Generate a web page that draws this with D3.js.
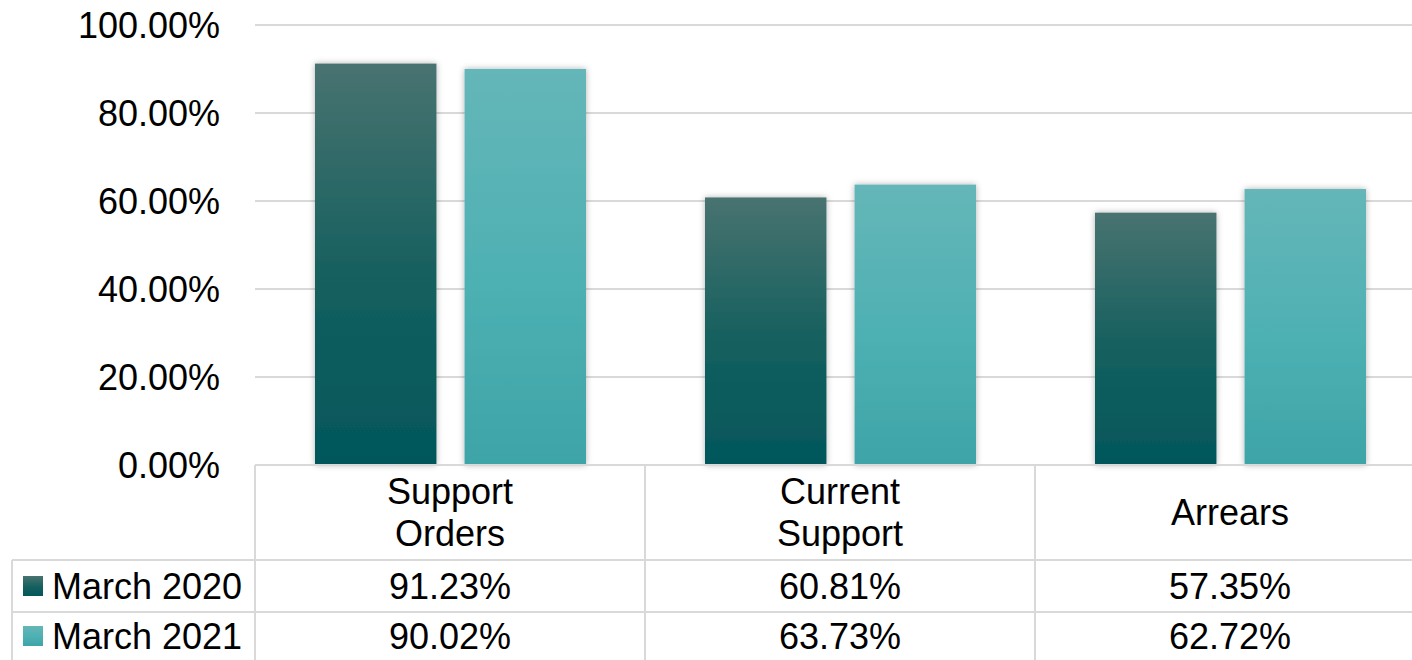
<!DOCTYPE html>
<html>
<head>
<meta charset="utf-8">
<script src="https://cdn.jsdelivr.net/npm/d3@7"></script>
<style>
  body { margin: 0; background: #fff; }
  svg text { font-family: "Liberation Sans", Arial, sans-serif; fill: #000; }
</style>
</head>
<body>
<div id="chart"></div>
<script>
var categories = [["Support", "Orders"], ["Current", "Support"], ["Arrears"]];
var seriesNames = ["March 2020", "March 2021"];
var march2020 = [91.23, 60.81, 57.35];
var march2021 = [90.02, 63.73, 62.72];
var yTicks = [0, 20, 40, 60, 80, 100];

function createChart() {
    var frame_width  = 1412,
        frame_height = 660,
        plotLeft     = 255,
        plotTop      = 25,
        plotBottom   = 465,
        bandWidth    = 390,
        rowY         = [560, 612, 660],
        tableLeft    = 12,
        fontSize     = 36,
        gridColor    = "#d9d9d9";

    var series = [march2020, march2021];
    var keys = categories.map(function(c) { return c.join(" "); });

    var svg = d3.select("#chart").append("svg")
        .attr("width", frame_width)
        .attr("height", frame_height);

    var defs = svg.append("defs");
    var grads = [
        {id: "g2020", stops: [["0%", "#487370"], ["55%", "#145f5f"], ["100%", "#03575a"]]},
        {id: "g2021", stops: [["0%", "#65b6b8"], ["55%", "#4db0b3"], ["100%", "#3ea4a7"]]}
    ];
    grads.forEach(function(g) {
        var lg = defs.append("linearGradient").attr("id", g.id)
            .attr("x1", 0).attr("y1", 0).attr("x2", 0).attr("y2", 1);
        g.stops.forEach(function(s) {
            lg.append("stop").attr("offset", s[0]).attr("stop-color", s[1]);
        });
    });
    var f = defs.append("filter").attr("id", "shadow")
        .attr("x", "-20%").attr("y", "-10%").attr("width", "140%").attr("height", "120%");
    f.append("feDropShadow").attr("dx", 0).attr("dy", 0)
        .attr("stdDeviation", 3).attr("flood-color", "#000").attr("flood-opacity", 0.3);

    var x = d3.scaleBand()
        .domain(keys)
        .range([plotLeft, plotLeft + bandWidth * keys.length])
        .paddingInner(0).paddingOuter(0);
    var xs = d3.scaleBand()
        .domain(seriesNames)
        .range([60, bandWidth - 59])
        .paddingInner(0.188);
    var y = d3.scaleLinear()
        .domain([0, 100])
        .range([plotBottom, plotTop]);

    // gridlines
    svg.append("g").selectAll("line")
        .data(yTicks)
        .enter().append("line")
        .attr("x1", plotLeft).attr("x2", frame_width)
        .attr("y1", function(d) { return y(d); })
        .attr("y2", function(d) { return y(d); })
        .attr("stroke", gridColor).attr("stroke-width", 2);

    // y labels
    svg.append("g").selectAll("text")
        .data(yTicks)
        .enter().append("text")
        .attr("x", 220)
        .attr("y", function(d) { return y(d); })
        .attr("dy", "0.35em")
        .attr("text-anchor", "end")
        .style("font-size", fontSize + "px")
        .text(function(d) { return d.toFixed(2) + "%"; });

    // bars
    series.forEach(function(vals, si) {
        svg.append("g").selectAll("rect")
            .data(vals)
            .enter().append("rect")
            .attr("x", function(d, i) { return x(keys[i]) + xs(seriesNames[si]); })
            .attr("y", function(d) { return y(d); })
            .attr("width", xs.bandwidth())
            .attr("height", function(d) { return plotBottom - y(d); })
            .attr("fill", "url(#" + grads[si].id + ")")
            .attr("filter", "url(#shadow)");
    });

    // table lines
    var tg = svg.append("g").attr("stroke", gridColor).attr("stroke-width", 2);
    tg.append("line").attr("x1", plotLeft).attr("x2", frame_width)
        .attr("y1", plotBottom).attr("y2", plotBottom);
    rowY.slice(0, 2).forEach(function(yy) {
        tg.append("line").attr("x1", tableLeft).attr("x2", frame_width)
            .attr("y1", yy).attr("y2", yy);
    });
    tg.append("line").attr("x1", tableLeft).attr("x2", tableLeft)
        .attr("y1", rowY[0]).attr("y2", frame_height);
    keys.forEach(function(k) {
        tg.append("line").attr("x1", x(k)).attr("x2", x(k))
            .attr("y1", plotBottom).attr("y2", frame_height);
    });

    // category labels
    keys.forEach(function(k, i) {
        var lines = categories[i];
        var mid = (plotBottom + rowY[0]) / 2;
        var lh = 42;
        lines.forEach(function(t, j) {
            svg.append("text")
                .attr("x", x(k) + bandWidth / 2)
                .attr("y", mid + (j - (lines.length - 1) / 2) * lh)
                .attr("dy", "0.35em")
                .attr("text-anchor", "middle")
                .style("font-size", fontSize + "px")
                .text(t);
        });
    });

    // legend + values rows
    var legendColors = ["url(#g2020)", "url(#g2021)"];
    series.forEach(function(vals, si) {
        var top = si === 0 ? rowY[0] : rowY[1];
        var bottom = si === 0 ? rowY[1] : rowY[2];
        var cy = (top + bottom) / 2;
        svg.append("rect")
            .attr("x", 23).attr("y", cy - 10)
            .attr("width", 20).attr("height", 20)
            .attr("fill", legendColors[si]);
        svg.append("text")
            .attr("x", 52).attr("y", cy)
            .attr("dy", "0.35em")
            .style("font-size", fontSize + "px")
            .text(seriesNames[si]);
        vals.forEach(function(v, i) {
            svg.append("text")
                .attr("x", x(keys[i]) + bandWidth / 2)
                .attr("y", cy)
                .attr("dy", "0.35em")
                .attr("text-anchor", "middle")
                .style("font-size", fontSize + "px")
                .text(v.toFixed(2) + "%");
        });
    });
}

createChart();
</script>
</body>
</html>
